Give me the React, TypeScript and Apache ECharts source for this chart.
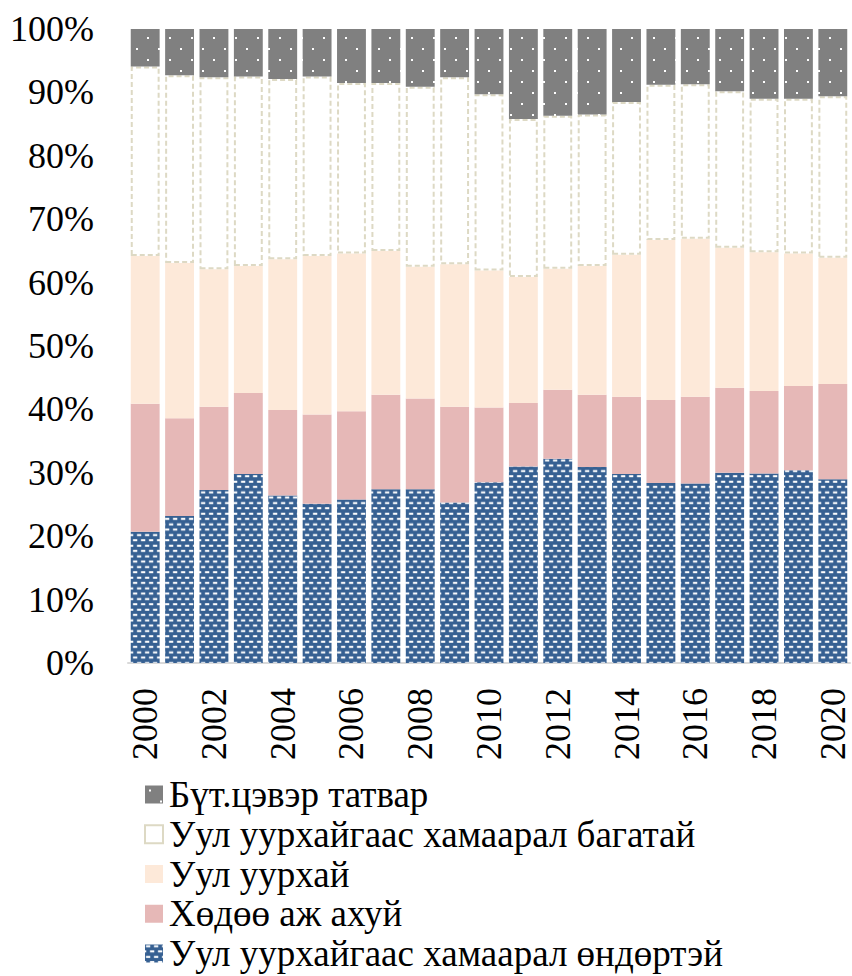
import React, { useEffect, useRef } from "react";
import * as echarts from "echarts";

const years = [
  "2000", "2001", "2002", "2003", "2004", "2005", "2006", "2007", "2008", "2009", "2010",
  "2011", "2012", "2013", "2014", "2015", "2016", "2017", "2018", "2019", "2020",
];

const seriesNames = [
  "Уул уурхайгаас хамаарал өндөртэй",
  "Хөдөө аж ахуй",
  "Уул уурхай",
  "Уул уурхайгаас хамаарал багатай",
  "Бүт.цэвэр татвар",
];

const highDependence = [20.7, 23.2, 27.3, 29.8, 26.4, 25.1, 25.8, 27.4, 27.4, 25.3, 28.5, 31.0, 32.2, 30.9, 29.8, 28.4, 28.3, 30.0, 29.9, 30.4, 29.0];
const agriculture = [20.2, 15.4, 13.1, 12.8, 13.5, 14.1, 13.9, 14.9, 14.3, 15.1, 11.8, 10.0, 10.9, 11.4, 12.2, 13.1, 13.7, 13.4, 13.0, 13.3, 15.0];
const mining = [23.3, 24.5, 21.7, 20.0, 23.8, 25.0, 24.9, 22.7, 20.8, 22.5, 21.6, 19.9, 19.1, 20.3, 22.4, 25.2, 24.9, 22.1, 21.9, 20.9, 19.9];
const lowDependence = [29.9, 29.6, 30.3, 29.9, 28.4, 28.3, 26.9, 26.5, 28.4, 29.5, 27.8, 24.9, 24.1, 23.9, 24.1, 24.5, 24.4, 24.7, 24.2, 24.4, 25.5];
const netTax = [5.9, 7.3, 7.6, 7.5, 7.9, 7.5, 8.5, 8.5, 9.1, 7.6, 10.3, 14.2, 13.7, 13.5, 11.5, 8.8, 8.7, 9.8, 11.0, 11.0, 10.6];

const yTicks = [0, 10, 20, 30, 40, 50, 60, 70, 80, 90, 100];

const FONT = "'Liberation Serif', 'Times New Roman', serif";

function brickPattern() {
  const s = 3;
  const c = document.createElement("canvas");
  c.width = 8 * s;
  c.height = 32;
  const ctx = c.getContext("2d")!;
  ctx.fillStyle = "#366092";
  ctx.fillRect(0, 0, c.width, c.height);
  ctx.fillStyle = "#ffffff";
  ctx.fillRect(1 * s, 2, 13, 6);
  ctx.fillRect(5 * s, 18, 9, 6);
  ctx.fillRect(0, 18, 4, 6);
  return { image: c, repeat: "repeat", imageWidth: 8, imageHeight: 32 / 3 } as any;
}

function dotPattern() {
  const c = document.createElement("canvas");
  c.width = 22;
  c.height = 22;
  const ctx = c.getContext("2d")!;
  ctx.fillStyle = "#808080";
  ctx.fillRect(0, 0, 22, 22);
  ctx.fillStyle = "#ffffff";
  ctx.fillRect(4, 4, 2, 2);
  ctx.fillRect(15, 15, 2, 2);
  return { image: c, repeat: "repeat", imageWidth: 22, imageHeight: 22 } as any;
}

export default function App() {
  const ref = useRef<HTMLDivElement>(null);
  useEffect(() => {
    document.body.style.margin = "0";
    const chart = echarts.init(ref.current!, undefined, { renderer: "svg" });
    const base = { type: "bar", stack: "total", barCategoryGap: "16%" };
    chart.setOption({
      animation: false,
      backgroundColor: "#ffffff",
      grid: { left: 128, right: 2, top: 29, bottom: 313, containLabel: false },
      legend: {
        orient: "vertical",
        left: 144,
        top: 776,
        height: 240,
        padding: 0,
        itemWidth: 18,
        itemHeight: 18,
        itemGap: 2.75,
        icon: "rect",
        data: [seriesNames[4], seriesNames[3], seriesNames[2], seriesNames[1], seriesNames[0]],
        textStyle: { fontFamily: FONT, fontSize: 37, color: "#000", lineHeight: 37, padding: [0, 0, 0, 1] },
      },
      xAxis: {
        type: "category",
        data: years,
        axisLine: { show: true, lineStyle: { color: "#D9D9D9", width: 2 } },
        axisTick: { show: false },
        axisLabel: {
          rotate: 90,
          interval: 1,
          margin: 25,
          fontFamily: FONT,
          fontSize: 36,
          lineHeight: 34,
          color: "#000",
        },
      },
      yAxis: {
        type: "value",
        min: yTicks[0],
        max: yTicks[yTicks.length - 1],
        interval: 10,
        axisLine: { show: false },
        axisTick: { show: false },
        splitLine: { show: false },
        axisLabel: {
          formatter: "{value}%",
          margin: 34,
          fontFamily: FONT,
          fontSize: 36,
          color: "#000",
          padding: [0, 0, 6, 0],
        },
      },
      series: [
        { ...base, name: seriesNames[0], data: highDependence, itemStyle: { color: brickPattern() } },
        { ...base, name: seriesNames[1], data: agriculture, itemStyle: { color: "#E6B8B7" } },
        { ...base, name: seriesNames[2], data: mining, itemStyle: { color: "#FDE9D9" } },
        {
          ...base,
          name: seriesNames[3],
          data: lowDependence,
          itemStyle: { color: "#ffffff", borderColor: "#DDD9C4", borderWidth: 2, borderType: [5, 3] },
        },
        { ...base, name: seriesNames[4], data: netTax, itemStyle: { color: dotPattern() } },
      ],
    });
    return () => chart.dispose();
  }, []);
  return <div ref={ref} style={{ width: 852, height: 976 }} />;
}
